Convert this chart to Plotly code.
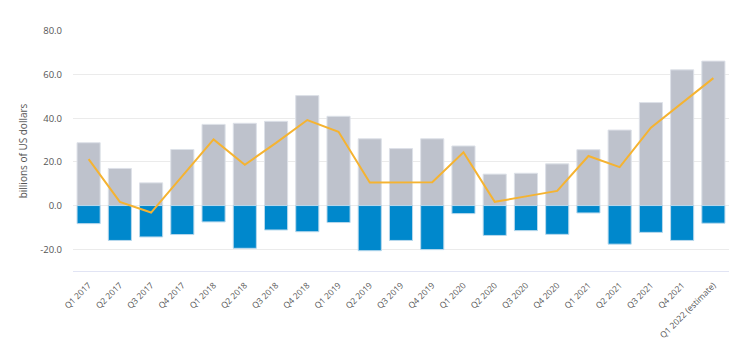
import plotly.graph_objects as go

quarters = ["Q1 2017", "Q2 2017", "Q3 2017", "Q4 2017", "Q1 2018", "Q2 2018", "Q3 2018",
            "Q4 2018", "Q1 2019", "Q2 2019", "Q3 2019", "Q4 2019", "Q1 2020", "Q2 2020",
            "Q3 2020", "Q4 2020", "Q1 2021", "Q2 2021", "Q3 2021", "Q4 2021",
            "Q1 2022 (estimate)"]
inflows = [28.8, 17.0, 10.4, 25.7, 37.2, 37.7, 38.6, 50.4, 40.9, 30.6, 26.1,
           30.6, 27.3, 14.4, 14.8, 19.1, 25.6, 34.6, 47.2, 62.2, 66.2]
outflows = [-8.3, -16.0, -14.4, -13.3, -7.5, -19.6, -11.2, -12.0, -7.8, -20.7, -16.0,
            -20.2, -3.7, -13.7, -11.5, -13.2, -3.4, -17.7, -12.3, -16.0, -8.1]
net = [21.3, 1.7, -3.2, 13.6, 30.3, 18.7, 28.7, 39.2, 33.8, 10.6, 10.7,
       10.7, 24.4, 1.7, 4.2, 6.7, 22.7, 17.6, 35.7, 47.0, 58.4]

fig = go.Figure()
fig.add_trace(go.Bar(x=quarters, y=inflows, marker=dict(color="#bec2cc",
              line=dict(color="#dde1e8", width=1)), width=0.74, name="Inflows"))
fig.add_trace(go.Bar(x=quarters, y=outflows, marker=dict(color="#0088cc",
              line=dict(color="#b8d8ec", width=1)), width=0.74, name="Outflows"))
fig.add_trace(go.Scatter(x=quarters, y=net, mode="lines",
              line=dict(color="#f5b331", width=2), name="Net"))

fig.update_layout(
    width=740, height=339,
    margin=dict(l=65, r=19, t=23, b=76),
    barmode="relative",
    showlegend=False,
    plot_bgcolor="white", paper_bgcolor="white",
    font=dict(family="Open Sans, Arial, sans-serif", size=9, color="#555555"),
)
fig.update_xaxes(tickangle=-45, showgrid=False, showline=True, linecolor="#e1e4f4",
                 linewidth=1, ticks="", automargin=False, ticklabelstandoff=5,
                 tickfont=dict(size=8.5, color="#555555"))
fig.update_yaxes(range=[-30, 80], tickvals=[-20, 0, 20, 40, 60, 80],
                 ticktext=["-20.0", "0.0", "20.0", "40.0", "60.0", "80.0"],
                 showgrid=True, gridcolor="#ebebeb", gridwidth=1, zeroline=False,
                 ticks="", ticklabelstandoff=10, automargin=False,
                 title=dict(text="billions of US dollars", font=dict(size=10, color="#555555"),
                            standoff=10),
                 tickfont=dict(size=9.5, color="#555555"))

fig.write_html("out.html")
